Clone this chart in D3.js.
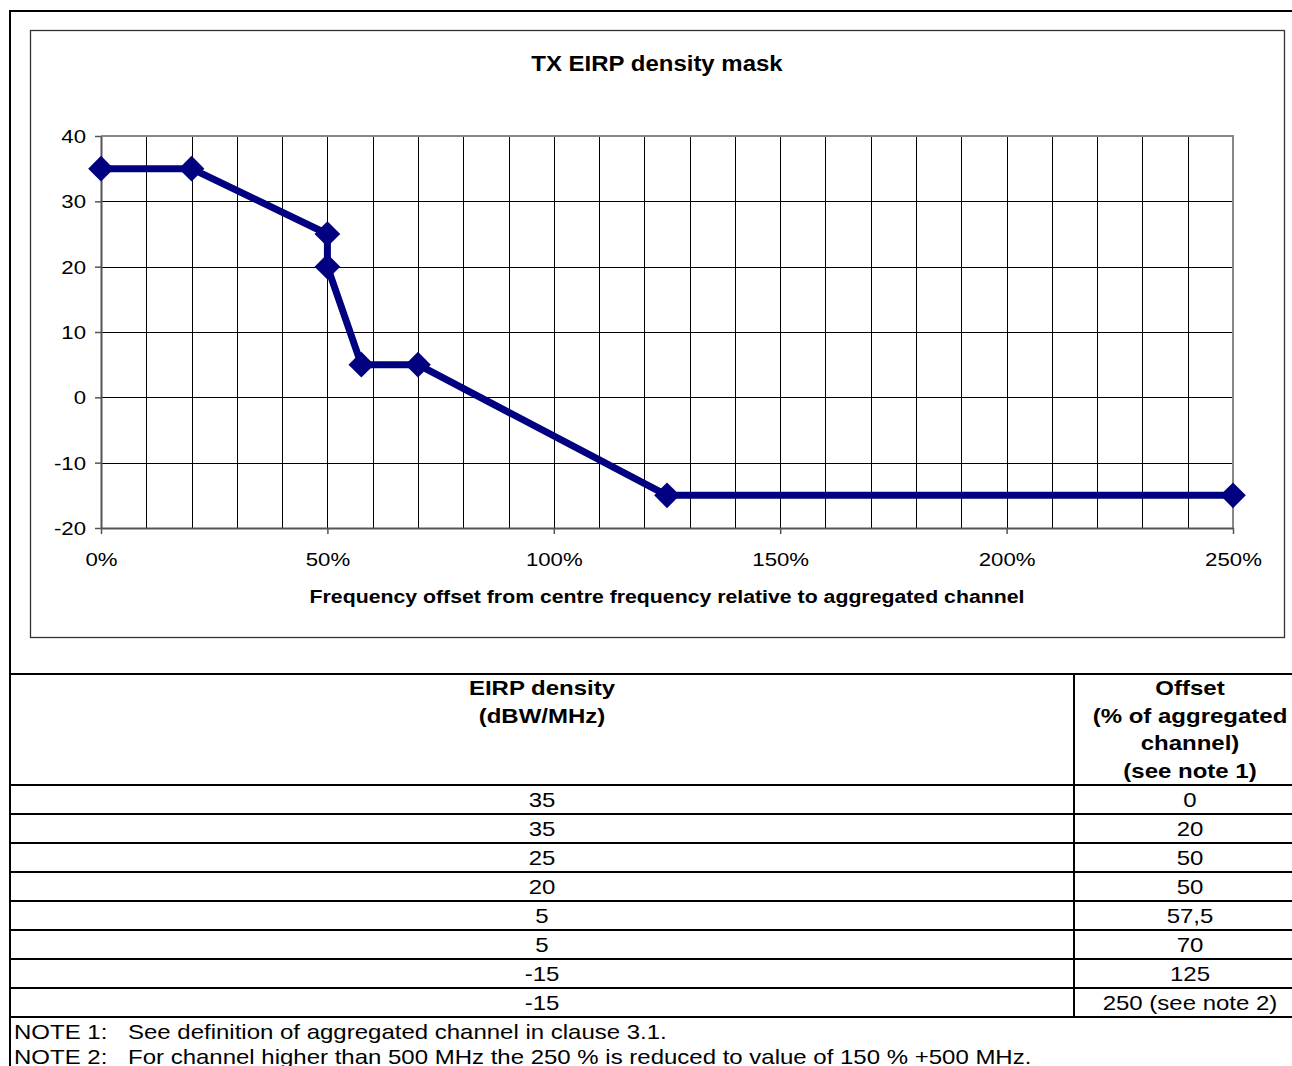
<!DOCTYPE html>
<html>
<head>
<meta charset="utf-8">
<script src="https://cdn.jsdelivr.net/npm/d3@7"></script>
<style>
  body { margin: 0; background: #fff; }
  svg text { font-family: "Liberation Sans", Arial, sans-serif; }
</style>
</head>
<body>
<div id="chart"></div>
<script>
var W = 1292, H = 1066;

// mask data (offset in % of aggregated channel, EIRP density in dBW/MHz)
var offsets = [0, 20, 50, 50, 57.5, 70, 125, 250];
var eirp = [35, 35, 25, 20, 5, 5, -15, -15];
var offsetLabels = ["0", "20", "50", "50", "57,5", "70", "125", "250 (see note 2)"];
var yTicks = [-20, -10, 0, 10, 20, 30, 40];
var xTicks = [0, 50, 100, 150, 200, 250];
var headLeft = ["EIRP density", "(dBW/MHz)"];
var headRight = ["Offset", "(% of aggregated", "channel)", "(see note 1)"];
var notes = [["NOTE 1:", "See definition of aggregated channel in clause 3.1."],
             ["NOTE 2:", "For channel higher than 500 MHz the 250 % is reduced to value of 150 % +500 MHz."]];

var svg = d3.select("#chart").append("svg")
	.attr("width", W)
	.attr("height", H);

// text helper: the original text is a bit wider than Arial, so stretch it in x
function txt(parent, x, y, s, size, bold, anchor, sx) {
	return parent.append("text")
		.attr("transform", "translate(" + x + "," + y + ") scale(" + sx + ",1)")
		.attr("text-anchor", anchor)
		.attr("font-size", size)
		.attr("font-weight", bold ? "bold" : "normal")
		.attr("fill", "#000")
		.text(s);
}

// outer frame
svg.append("line").attr("x1", 10).attr("x2", W).attr("y1", 11).attr("y2", 11)
	.attr("stroke", "#000").attr("stroke-width", 2);
svg.append("line").attr("x1", 10).attr("x2", 10).attr("y1", 10).attr("y2", H)
	.attr("stroke", "#000").attr("stroke-width", 2);

// chart area box
svg.append("rect").attr("x", 30.5).attr("y", 30.5).attr("width", 1254).attr("height", 607)
	.attr("fill", "none").attr("stroke", "#333").attr("stroke-width", 1.3);

var x = d3.scaleLinear().domain([0, 250]).range([101, 1233]);
var y = d3.scaleLinear().domain([-20, 40]).range([528, 136]);

// grid
var g = svg.append("g");
g.selectAll(".vgrid")
	.data(d3.range(10, 250, 10))
	.enter().append("line")
	.attr("class", "vgrid")
	.attr("x1", function(d) { return Math.round(x(d)) + 0.5; })
	.attr("x2", function(d) { return Math.round(x(d)) + 0.5; })
	.attr("y1", y(40)).attr("y2", y(-20))
	.attr("stroke", "#000").attr("stroke-width", 1);
g.selectAll(".hgrid")
	.data([-10, 0, 10, 20, 30])
	.enter().append("line")
	.attr("class", "hgrid")
	.attr("x1", x(0)).attr("x2", x(250))
	.attr("y1", function(d) { return Math.round(y(d)) + 0.5; })
	.attr("y2", function(d) { return Math.round(y(d)) + 0.5; })
	.attr("stroke", "#000").attr("stroke-width", 1);

// plot border (top / right)
g.append("path")
	.attr("d", "M" + x(0) + "," + y(40) + "H" + x(250) + "V" + y(-20))
	.attr("fill", "none").attr("stroke", "#888").attr("stroke-width", 2);

// axes
var yAxis = d3.axisLeft(y).tickValues(yTicks).tickSize(6).tickSizeOuter(0)
	.tickFormat(function(d) { return String(d); });
var ya = svg.append("g").attr("transform", "translate(" + x(0) + ",0)").call(yAxis);
ya.select(".domain").attr("stroke", "#555").attr("stroke-width", 2);
ya.selectAll(".tick line").attr("stroke", "#555").attr("stroke-width", 1.5);
ya.selectAll(".tick text")
	.attr("x", 0).attr("dy", "0.35em")
	.attr("transform", "translate(-15,0) scale(1.17,1)")
	.attr("font-size", 19).attr("fill", "#000")
	.style("font-family", "'Liberation Sans', Arial, sans-serif");

var xAxis = d3.axisBottom(x).tickValues(xTicks).tickSize(6).tickSizeOuter(0)
	.tickFormat(function(d) { return d + "%"; });
var xa = svg.append("g").attr("transform", "translate(0," + y(-20) + ")").call(xAxis);
xa.select(".domain").attr("stroke", "#555").attr("stroke-width", 2);
xa.selectAll(".tick line").attr("stroke", "#555").attr("stroke-width", 1.5);
xa.selectAll(".tick text")
	.attr("y", 0).attr("dy", 0)
	.attr("transform", "translate(0,38) scale(1.17,1)")
	.attr("font-size", 19).attr("fill", "#000")
	.style("font-family", "'Liberation Sans', Arial, sans-serif");

// titles
txt(svg, 657, 71, "TX EIRP density mask", 22, true, "middle", 1.09);
txt(svg, 667, 603, "Frequency offset from centre frequency relative to aggregated channel", 19, true, "middle", 1.12);

// series
var pts = offsets.map(function(o, i) { return [o, eirp[i]]; });
var line = d3.line()
	.x(function(d) { return x(d[0]); })
	.y(function(d) { return y(d[1]); });
svg.append("path")
	.datum(pts)
	.attr("d", line)
	.attr("fill", "none")
	.attr("stroke", "#000080")
	.attr("stroke-width", 7)
	.attr("stroke-linejoin", "round");
svg.selectAll(".mark")
	.data(pts)
	.enter().append("path")
	.attr("class", "mark")
	.attr("d", d3.symbol().type(d3.symbolDiamond2).size(420))
	.attr("transform", function(d) { return "translate(" + x(d[0]) + "," + y(d[1]) + ")"; })
	.attr("fill", "#000080");

// table
var colX = 1074, tTop = 674, hBottom = 785, rowH = 29;
var c1 = (10 + colX) / 2, c2 = 1190;
var t = svg.append("g");
t.append("line").attr("x1", 10).attr("x2", W).attr("y1", tTop).attr("y2", tTop)
	.attr("stroke", "#000").attr("stroke-width", 2);
t.append("line").attr("x1", colX).attr("x2", colX).attr("y1", tTop).attr("y2", hBottom + rowH * offsets.length)
	.attr("stroke", "#000").attr("stroke-width", 2);
t.selectAll(".rowline")
	.data(d3.range(offsets.length + 1))
	.enter().append("line")
	.attr("class", "rowline")
	.attr("x1", 10).attr("x2", W)
	.attr("y1", function(i) { return hBottom + i * rowH; })
	.attr("y2", function(i) { return hBottom + i * rowH; })
	.attr("stroke", "#000").attr("stroke-width", 2);

headLeft.forEach(function(s, i) {
	txt(t, c1, 695 + i * 27.7, s, 20, true, "middle", 1.2);
});
headRight.forEach(function(s, i) {
	txt(t, c2, 695 + i * 27.7, s, 20, true, "middle", 1.2);
});
eirp.forEach(function(v, i) {
	txt(t, c1, hBottom + i * rowH + 22, v, 20, false, "middle", 1.2);
});
offsetLabels.forEach(function(s, i) {
	txt(t, c2, hBottom + i * rowH + 22, s, 20, false, "middle", 1.2);
});

// notes
notes.forEach(function(n, i) {
	txt(t, 14, 1039 + i * 25, n[0], 20, false, "start", 1.2);
	txt(t, 128, 1039 + i * 25, n[1], 20, false, "start", 1.2);
});
</script>
</body>
</html>
